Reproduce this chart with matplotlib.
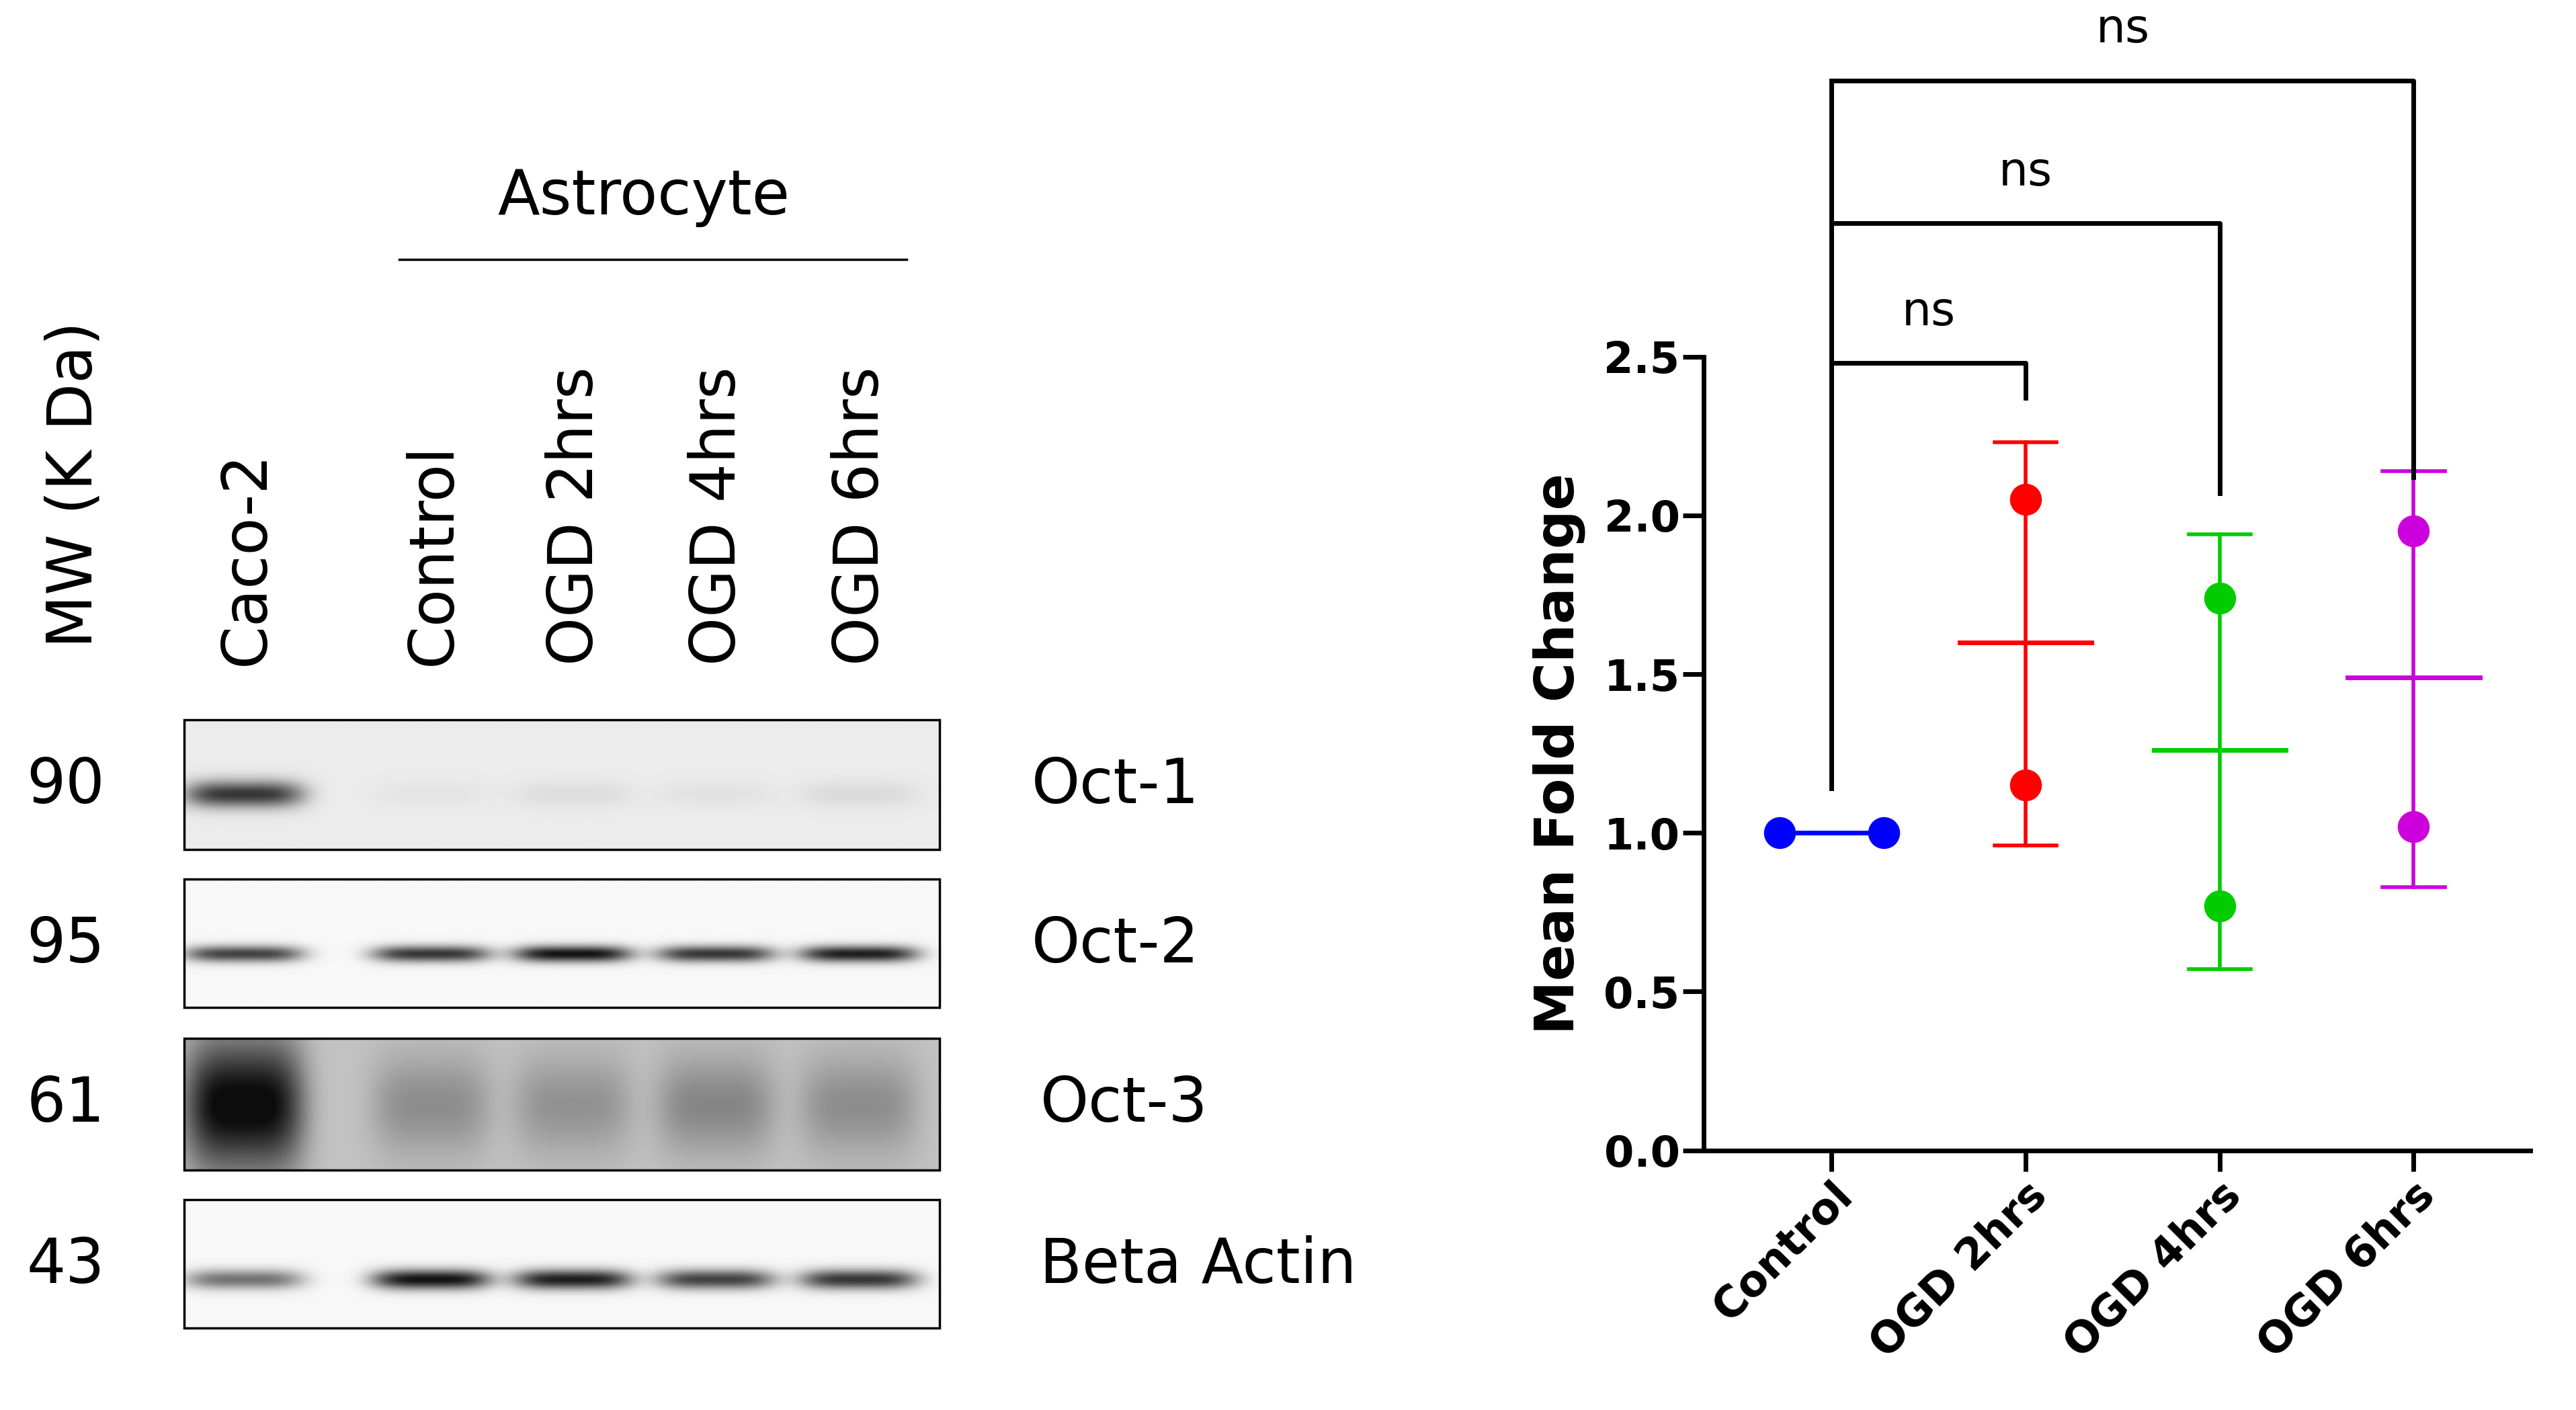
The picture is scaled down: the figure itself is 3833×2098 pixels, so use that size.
import numpy as np
import matplotlib
matplotlib.use("Agg")
import matplotlib.pyplot as plt

# ---- blot data (darkness 0..1 per lane) ----
lanes = ["Caco-2", "Control", "OGD 2hrs", "OGD 4hrs", "OGD 6hrs"]
lane_x = [148, 262, 348, 435, 522]
mw = ["90", "95", "61", "43"]
proteins = ["Oct-1", "Oct-2", "Oct-3", "Beta Actin"]
oct1 = [0.75, 0.03, 0.06, 0.04, 0.07]
oct2 = [0.75, 0.8, 0.95, 0.8, 0.9]
oct3 = [0.8, 0.22, 0.2, 0.25, 0.22]
actin = [0.55, 0.95, 0.9, 0.75, 0.8]
band_y = [483, 580, 672, 778]
band_h = [8, 5, 30, 6]
backgr = [0.08, 0.03, 0.25, 0.03]
boxes = [(438, 517), (535, 613), (632, 712), (730, 808)]

# ---- quantification data ----
groups = ["Control", "OGD 2hrs", "OGD 4hrs", "OGD 6hrs"]
colors = ["#0000ff", "#ff0000", "#00cc00", "#cc00dd"]
points = [[1.0, 1.0], [2.05, 1.15], [1.74, 0.77], [1.95, 1.02]]
means = [1.0, 1.6, 1.26, 1.49]
err_lo = [1.0, 0.96, 0.57, 0.83]
err_hi = [1.0, 2.23, 1.94, 2.14]

W, H = 1568, 858
fig = plt.figure(figsize=(38.33, 20.98), dpi=100)

# left panel in display pixel coords
bx = fig.add_axes([0, 0, 1, 1])
bx.set_xlim(0, W); bx.set_ylim(H, 0); bx.axis("off")

for k, (y0, y1) in enumerate(boxes):
    xs = np.arange(112, 572)
    ys = np.arange(y0, y1)
    X, Y = np.meshgrid(xs, ys)
    img = np.full(X.shape, backgr[k])
    vals = [oct1, oct2, oct3, actin][k]
    for lx, v in zip(lane_x, vals):
        hy = band_h[k] if not (k == 2 and lx == lane_x[0]) else 40
        img += v * np.exp(-((X - lx) / 36.0) ** 4) * np.exp(-((Y - band_y[k]) / hy) ** 2)
    img = np.clip(img, 0, 1)
    bx.imshow(img, cmap="gray_r", vmin=0, vmax=1.05, extent=(112, 572, y1, y0),
              aspect="auto", interpolation="bilinear")
    bx.add_patch(plt.Rectangle((112, y0), 460, y1 - y0, fill=False, lw=2.5, ec="black"))
    bx.text(40, y0 + 40, mw[k], fontsize=66, ha="center", va="center")
    bx.text(628 if k < 2 else 633, y0 + 40, proteins[k], fontsize=66, ha="left", va="center")

bx.text(45, 295, "MW (K Da)", fontsize=66, rotation=90, ha="center", va="center")
for lx, name in zip(lane_x, lanes):
    bx.text(lx + 2, 405, name, fontsize=66, rotation=90, ha="center", va="bottom")
bx.text(392, 120, "Astrocyte", fontsize=66, ha="center", va="center")
bx.plot([243, 552], [158, 158], color="black", lw=2.5)

# right panel
ax = fig.add_axes([1037 / W, 158 / H, 503 / W, 483 / H])
ax.set_xlim(-0.66, 3.6); ax.set_ylim(0, 2.5)
ax.spines[["top", "right"]].set_visible(False)
for s in ["left", "bottom"]:
    ax.spines[s].set_linewidth(5)
x = np.arange(len(groups))
for i in range(len(groups)):
    c = colors[i]
    if i == 0:
        ax.plot([x[i] - 0.27, x[i] + 0.27], points[i], color=c, lw=5, zorder=3)
        ax.scatter([x[i] - 0.27, x[i] + 0.27], points[i], s=1100, color=c, zorder=4)
    else:
        ax.scatter([x[i]] * 2, points[i], s=1100, color=c, zorder=4)
        ax.plot([x[i], x[i]], [err_lo[i], err_hi[i]], color=c, lw=4)
        for v in (err_lo[i], err_hi[i]):
            ax.plot([x[i] - 0.16, x[i] + 0.16], [v, v], color=c, lw=4)
        ax.plot([x[i] - 0.34, x[i] + 0.34], [means[i], means[i]], color=c, lw=5)

ax.set_yticks([0, 0.5, 1.0, 1.5, 2.0, 2.5])
ax.set_yticklabels(["0.0", "0.5", "1.0", "1.5", "2.0", "2.5"], fontsize=46, fontweight="bold")
ax.set_xticks(x)
ax.set_xticklabels(groups, fontsize=46, fontweight="bold", rotation=45, ha="right",
                   rotation_mode="anchor")
ax.tick_params(width=5, length=22)
ax.set_ylabel("Mean Fold Change", fontsize=58, fontweight="bold", labelpad=20)

# significance brackets
tops = [2.48, 2.92, 3.37]
ends = [2.37, 2.07, 2.12]
ax.plot([0, 0], [1.14, tops[-1]], color="black", lw=5, clip_on=False)
for j, (t, e) in enumerate(zip(tops, ends)):
    ax.plot([0, j + 1, j + 1], [t, t, e], color="black", lw=5, clip_on=False)
    ax.text((j + 1) / 2, t + 0.09, "ns", fontsize=50, ha="center", va="bottom")

fig.savefig("out.png", dpi=100)
